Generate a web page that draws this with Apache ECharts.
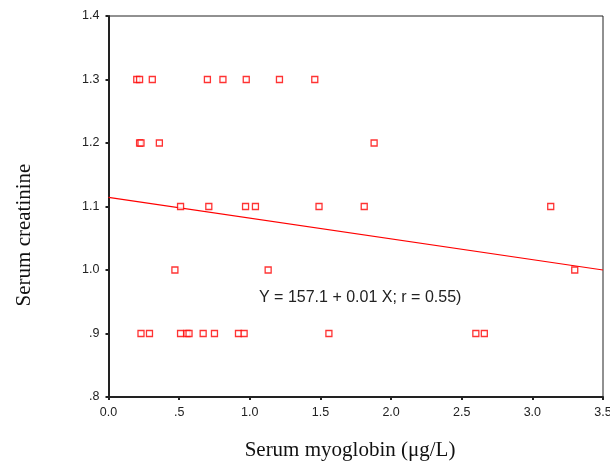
<!DOCTYPE html>
<html><head><meta charset="utf-8">
<script src="https://cdn.jsdelivr.net/npm/echarts@6/dist/echarts.min.js"></script>
<style>html,body{margin:0;padding:0;background:#fff}#c{width:610px;height:464px}</style>
</head><body><div id="c"></div>
<script>
var xTickLabels = ['0.0', '.5', '1.0', '1.5', '2.0', '2.5', '3.0', '3.5'];
var yTickLabels = ['.8', '.9', '1.0', '1.1', '1.2', '1.3', '1.4'];
var myoglobin = [0.20, 0.22, 0.31, 0.70, 0.81, 0.975, 1.21, 1.46,
                 0.22, 0.23, 0.36, 1.88,
                 0.51, 0.71, 0.97, 1.04, 1.49, 1.81, 3.13,
                 0.47, 1.13, 3.30,
                 0.23, 0.29, 0.51, 0.555, 0.57, 0.67, 0.75, 0.92, 0.96, 1.56, 2.60, 2.66];
var creatinine = [1.3, 1.3, 1.3, 1.3, 1.3, 1.3, 1.3, 1.3,
                  1.2, 1.2, 1.2, 1.2,
                  1.1, 1.1, 1.1, 1.1, 1.1, 1.1, 1.1,
                  1.0, 1.0, 1.0,
                  0.9, 0.9, 0.9, 0.9, 0.9, 0.9, 0.9, 0.9, 0.9, 0.9, 0.9, 0.9];
var fitX = [0, 3.5];
var fitY = [1.1145, 1.0];
var equationText = 'Y = 157.1 + 0.01 X; r = 0.55)';
var xTitle = 'Serum myoglobin (\u03bcg/L)';
var yTitle = 'Serum creatinine';

var pts = myoglobin.map(function (x, i) { return [x, creatinine[i]]; });
var fit = fitX.map(function (x, i) { return [x, fitY[i]]; });

var chart = echarts.init(document.getElementById('c'), null, {renderer: 'canvas'});
chart.setOption({
  animation: false,
  backgroundColor: '#fff',
  grid: {left: 108.5, right: 7, top: 16, bottom: 67, show: true, borderColor: '#222', borderWidth: 1,
         containLabel: false, outerBoundsMode: 'none'},
  xAxis: {
    type: 'value', min: 0, max: 3.5, interval: 0.5,
    axisLine: {show: true, lineStyle: {color: '#222', width: 2}},
    axisTick: {show: true, length: 3, lineStyle: {color: '#222', width: 2}},
    axisLabel: {fontFamily: 'Liberation Sans', fontSize: 12.5, color: '#222', margin: 9,
      formatter: function (v, i) { return xTickLabels[i]; }},
    splitLine: {show: false}
  },
  yAxis: {
    type: 'value', min: 0.8, max: 1.4, interval: 0.1,
    axisLine: {show: true, lineStyle: {color: '#222', width: 2}},
    axisTick: {show: true, length: 3, lineStyle: {color: '#222', width: 2}},
    axisLabel: {fontFamily: 'Liberation Sans', fontSize: 12.5, color: '#222', margin: 9,
      formatter: function (v, i) { return yTickLabels[i]; }},
    splitLine: {show: false}
  },
  series: [
    {type: 'line', data: fit, showSymbol: false, symbol: 'none',
     lineStyle: {color: '#f00', width: 1.2}, z: 2},
    {type: 'scatter', data: pts, symbol: 'rect', symbolSize: 6,
     itemStyle: {color: '#fff', borderColor: '#f00', borderWidth: 1.3}, z: 3}
  ],
  graphic: [
    {type: 'text', x: 259, y: 298,
     style: {text: equationText, fontFamily: 'Liberation Sans', fontSize: 16, fill: '#222',
             verticalAlign: 'middle', align: 'left'}},
    {type: 'text', x: 350, y: 450,
     style: {text: xTitle, fontFamily: 'Liberation Serif', fontSize: 21, fill: '#111',
             verticalAlign: 'middle', align: 'center'}},
    {type: 'text', x: 24, y: 235, rotation: Math.PI / 2,
     style: {text: yTitle, fontFamily: 'Liberation Serif', fontSize: 21, fill: '#111',
             verticalAlign: 'middle', align: 'center'}}
  ]
});
</script></body></html>
